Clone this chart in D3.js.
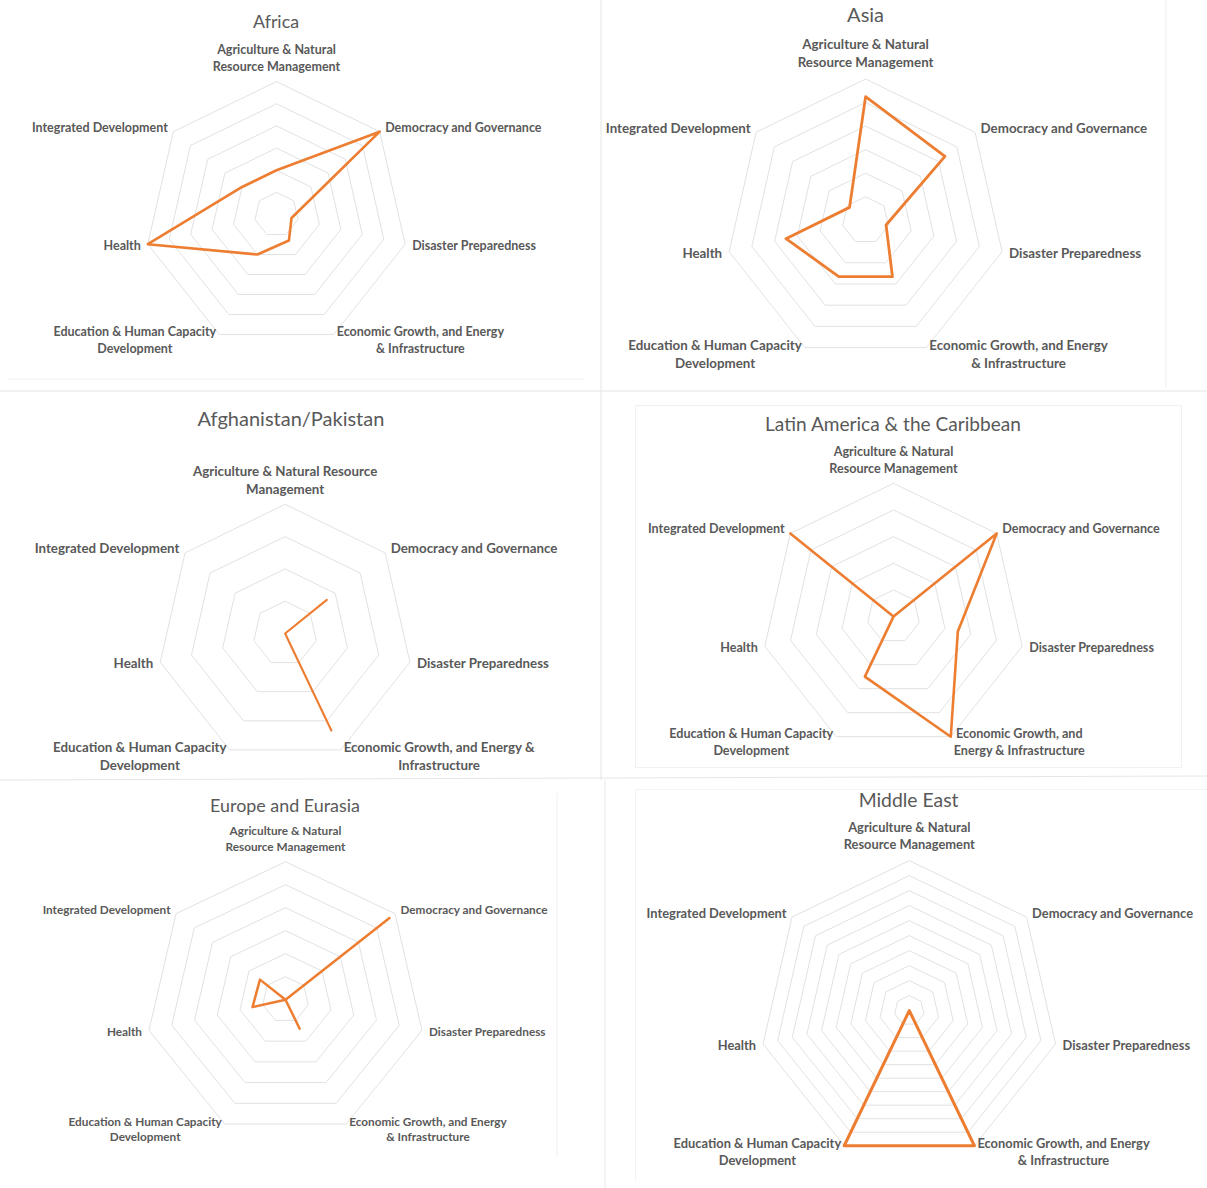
<!DOCTYPE html>
<html>
<head>
<meta charset="utf-8">
<script src="https://cdn.jsdelivr.net/npm/d3@7"></script>
<style>
  html, body { margin: 0; padding: 0; background: #ffffff; }
  svg { display: block; }
  text { font-family: Lato, "Open Sans", sans-serif; fill: #595959; }
</style>
</head>
<body>
<svg id="chart" width="1207" height="1188"></svg>
<script>
// ---- Data -------------------------------------------------------------
// Axis order, clockwise from the top.
const categories = [
  "Agriculture & Natural Resource Management",
  "Democracy and Governance",
  "Disaster Preparedness",
  "Economic Growth, and Energy & Infrastructure",
  "Education & Human Capacity Development",
  "Health",
  "Integrated Development"
];

const regions = [
  "Africa",
  "Asia",
  "Afghanistan/Pakistan",
  "Latin America & the Caribbean",
  "Europe and Eurasia",
  "Middle East"
];

// One value per category, in the order above.
const africa              = [2, 6, 0.7, 1.3, 2, 6, 2];
const asia                = [5.25, 4.35, 0.9, 2.65, 2.65, 3.5, 0.88];
const afghanistanPakistan = [0, 5, 0, 10, 0, 0, 0];
const latinAmerica        = [0, 10, 5, 10, 5, 0, 10];
const europeEurasia       = [0, 5.7, 0, 1.4, 0, 1.45, 1.4];
const middleEast          = [0, 0, 0, 10, 10, 0, 0];

// Radial axis of each region: maximum and gridline step.
const axisMax  = [6, 6, 12, 10, 6, 10];
const axisStep = [1, 1, 3, 2, 1, 1];

// Category label line breaks.
const labelsStandard = [
  ["Agriculture & Natural", "Resource Management"],
  ["Democracy and Governance"],
  ["Disaster Preparedness"],
  ["Economic Growth, and Energy", "& Infrastructure"],
  ["Education & Human Capacity", "Development"],
  ["Health"],
  ["Integrated Development"]
];
const labelsAfPak = [
  ["Agriculture & Natural Resource", "Management"],
  ["Democracy and Governance"],
  ["Disaster Preparedness"],
  ["Economic Growth, and Energy &", "Infrastructure"],
  ["Education & Human Capacity", "Development"],
  ["Health"],
  ["Integrated Development"]
];
const labelsLatAm = [
  ["Agriculture & Natural", "Resource Management"],
  ["Democracy and Governance"],
  ["Disaster Preparedness"],
  ["Economic Growth, and", "Energy & Infrastructure"],
  ["Education & Human Capacity", "Development"],
  ["Health"],
  ["Integrated Development"]
];

const seriesValues = [africa, asia, afghanistanPakistan, latinAmerica, europeEurasia, middleEast];
const labelSets = [labelsStandard, labelsStandard, labelsAfPak, labelsLatAm, labelsStandard, labelsStandard];

// ---- Layout -----------------------------------------------------------
const panels = [
  { cx: 276.5, cy: 214.6,  rx: 132, ry: 133,   tx: 276,   ty: 21,  titleW: 46,  labelW: 136, lh: 17,   topGap: 15.6, stroke: 2.6 },
  { cx: 865.6, cy: 220.3,  rx: 140, ry: 141.3, tx: 865.6, ty: 14,  titleW: 37,  labelW: 145, lh: 18,   topGap: 17,   stroke: 2.8 },
  { cx: 285.1, cy: 633.5,  rx: 128, ry: 129.2, tx: 290.9, ty: 418, titleW: 187, labelW: 145, lh: 18,   topGap: 15.3, stroke: 2.1 },
  { cx: 893.5, cy: 616.6,  rx: 132, ry: 133.3, tx: 893,   ty: 423, titleW: 256, labelW: 137, lh: 16.5, topGap: 15.3, stroke: 2.6 },
  { cx: 285.5, cy: 999.7,  rx: 140, ry: 138,   tx: 285,   ty: 805, titleW: 150, labelW: 128, lh: 15.5, topGap: 15.7, stroke: 2.5 },
  { cx: 909.3, cy: 1010.6, rx: 150, ry: 150,   tx: 908.6, ty: 799, titleW: 100, labelW: 140, lh: 17,   topGap: 16.6, stroke: 3 }
];

const svg = d3.select("#chart");

// Faint frames between the six panels.
const frames = [
  [601, 0, 601, 780, "#e4e4e4"],
  [605, 780, 605, 1188, "#e8e8e8"],
  [0, 391, 1207, 391, "#e4e4e4"],
  [0, 780, 1207, 776, "#e6e6e6"],
  [8, 379, 585, 379, "#f2f2f2"],
  [1166, 0, 1166, 388, "#f0f0f0"],
  [557, 793, 557, 1157, "#f0f0f0"]
];
svg.append("g").selectAll("line").data(frames).join("line")
  .attr("x1", d => d[0]).attr("y1", d => d[1])
  .attr("x2", d => d[2]).attr("y2", d => d[3])
  .attr("stroke", d => d[4]).attr("stroke-width", 1);
svg.append("rect").attr("x", 635.5).attr("y", 405.5).attr("width", 546).attr("height", 362)
  .attr("fill", "none").attr("stroke", "#f1f1f1");
svg.append("path").attr("d", "M635.5,1180V789.5H1207")
  .attr("fill", "none").attr("stroke", "#f3f3f3");

// Text measuring helper.
const probe = svg.append("text").attr("visibility", "hidden");
function textWidth(str, size, weight) {
  probe.attr("font-size", size).attr("font-weight", weight).text(str);
  return probe.node().getComputedTextLength();
}

const n = categories.length;
const angle = d3.scaleLinear().domain([0, n]).range([0, 2 * Math.PI]);
const closedLine = d3.line().x(d => d[0]).y(d => d[1]).curve(d3.curveLinearClosed);

panels.forEach((p, k) => {
  const g = svg.append("g").attr("class", "radar");
  const r = d3.scaleLinear().domain([0, axisMax[k]]).range([0, 1]);
  const point = (v, i) => [
    p.cx + r(v) * p.rx * Math.sin(angle(i)),
    p.cy - r(v) * p.ry * Math.cos(angle(i))
  ];

  // Gridline rings
  const ticks = d3.range(axisStep[k], axisMax[k] + 1e-9, axisStep[k]);
  g.selectAll("path.ring").data(ticks).join("path")
    .attr("class", "ring")
    .attr("d", t => closedLine(categories.map((_, i) => point(t, i))))
    .attr("fill", "none")
    .attr("stroke", "#e2e2e2")
    .attr("stroke-width", 1);

  // Series line
  g.append("path")
    .attr("d", closedLine(seriesValues[k].map((v, i) => point(v, i))))
    .attr("fill", "none")
    .attr("stroke", "#ed7d31")
    .attr("stroke-width", p.stroke)
    .attr("stroke-linejoin", "round");

  // Title
  const titleSize = 18 * p.titleW / textWidth(regions[k], 18, 400);
  g.append("text")
    .attr("x", p.tx).attr("y", p.ty)
    .attr("text-anchor", "middle")
    .attr("dominant-baseline", "central")
    .attr("font-size", titleSize)
    .attr("font-weight", 400)
    .text(regions[k]);

  // Category labels
  const fs = 12 * p.labelW / textWidth("Integrated Development", 12, 700);
  labelSets[k].forEach((lines, i) => {
    const [vx, vy] = point(axisMax[k], i);
    const maxW = d3.max(lines, s => textWidth(s, fs, 700));
    let x, ys;
    if (i === 0) {
      x = vx;
      ys = lines.map((_, j) => vy - p.topGap - (lines.length - 1 - j) * p.lh);
    } else if (i === 1) {
      x = vx + 5.5 + maxW / 2; ys = [vy - 4.5];
    } else if (i === 2) {
      x = vx + 7 + maxW / 2; ys = [vy + 1];
    } else if (i === 3) {
      x = vx + 3 + maxW / 2; ys = lines.map((_, j) => vy - 3 + j * p.lh);
    } else if (i === 4) {
      x = vx - 3 - maxW / 2; ys = lines.map((_, j) => vy - 3 + j * p.lh);
    } else if (i === 5) {
      x = vx - 7 - maxW / 2; ys = [vy + 1];
    } else {
      x = vx - 5.5 - maxW / 2; ys = [vy - 4.5];
    }
    g.selectAll(null).data(lines).join("text")
      .attr("x", x)
      .attr("y", (_, j) => ys[j])
      .attr("text-anchor", "middle")
      .attr("dominant-baseline", "central")
      .attr("font-size", fs)
      .attr("font-weight", 700)
      .text(s => s);
  });
});

probe.remove();
</script>
</body>
</html>
